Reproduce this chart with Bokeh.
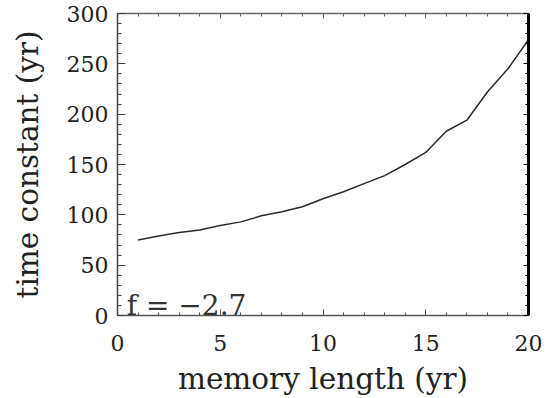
from bokeh.plotting import figure
from bokeh.models import Range1d, LinearAxis, SingleIntervalTicker, Label
from bokeh.embed import file_html
from bokeh.resources import INLINE

# data
memory_length = [1, 2, 3, 4, 5, 6, 7, 8, 9, 10, 11, 12, 13, 14, 15, 16, 17, 18, 19, 20]
time_constant = [75, 79, 82.5, 85, 89.5, 93, 99, 103, 108, 116, 123, 131, 139, 150, 162, 183, 194, 222, 245, 274]
x_label = "memory length (yr)"
y_label = "time constant (yr)"
annotation = "f = \u22122.7"

FONT = "DejaVu Serif"
TXT = "#222222"

p = figure(width=549, height=398, output_backend="svg", toolbar_location=None,
           x_range=Range1d(0, 20), y_range=Range1d(0, 300),
           x_axis_type=None, y_axis_type=None,
           min_border_left=117, min_border_right=21, min_border_top=13, min_border_bottom=81)
p.outline_line_color = None
p.background_fill_color = "white"
p.border_fill_color = "white"


def style(ax, major_in, minor_in, color, width, show_labels=True):
    ax.major_tick_out = 0
    ax.minor_tick_out = 0
    ax.major_tick_in = major_in
    ax.minor_tick_in = minor_in
    ax.axis_line_color = color
    ax.axis_line_width = width
    ax.major_tick_line_color = color
    ax.minor_tick_line_color = color
    ax.major_tick_line_width = 1
    ax.minor_tick_line_width = 1
    ax.major_label_text_font = FONT
    ax.major_label_text_font_size = "22px"
    ax.major_label_text_color = TXT
    ax.axis_label_text_font = FONT
    ax.axis_label_text_font_size = "29.5px"
    ax.axis_label_text_font_style = "normal"
    ax.axis_label_text_color = TXT
    if not show_labels:
        ax.major_label_text_font_size = "0px"
        ax.major_label_text_alpha = 0
        ax.major_label_standoff = 0
        ax.axis_label_standoff = 0


xt = lambda: SingleIntervalTicker(interval=5, num_minor_ticks=5)
yt = lambda: SingleIntervalTicker(interval=50, num_minor_ticks=5)

bottom = LinearAxis(ticker=xt(), axis_label=x_label)
style(bottom, 6, 3, "#555555", 1.5)
bottom.major_label_standoff = 19
bottom.axis_label_standoff = 8
p.add_layout(bottom, "below")

left = LinearAxis(ticker=yt(), axis_label=y_label)
style(left, 8, 4, "#444444", 1.5)
left.major_label_standoff = 9
left.axis_label_standoff = 19
p.add_layout(left, "left")

top = LinearAxis(ticker=xt())
style(top, 5, 3, "#666666", 1.5, show_labels=False)
p.add_layout(top, "above")

right = LinearAxis(ticker=yt())
style(right, 5, 3, "#000000", 3, show_labels=False)
p.add_layout(right, "right")

p.line(memory_length, time_constant, line_color="#2a2a2a", line_width=1.5)

p.add_layout(Label(x=0.45, y=10, text=annotation, text_font=FONT, text_font_size="28px",
                   text_color="#333333", text_baseline="alphabetic"))

open("out.html", "w").write(file_html(p, INLINE))
